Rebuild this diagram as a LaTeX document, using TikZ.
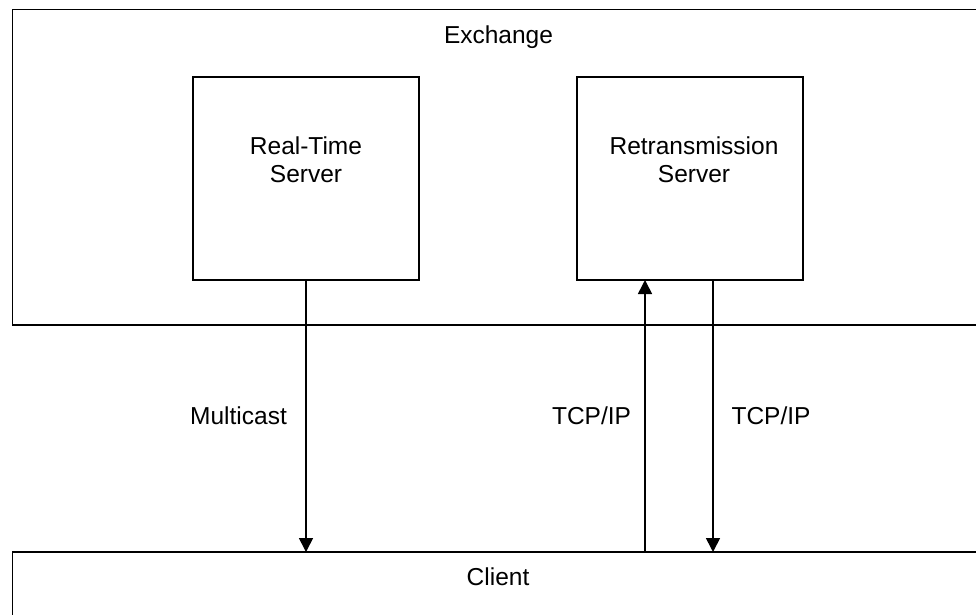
\documentclass[tikz,border=0pt]{standalone}
\usepackage{fontspec}
\setmainfont{Liberation Sans}
\usetikzlibrary{arrows.meta}
\begin{document}
\begin{tikzpicture}[x=1pt,y=-1pt,
  box/.style={draw,line width=1.6pt,rectangle,anchor=north west,inner sep=0pt,outer sep=0pt},
  lbl/.style={anchor=base,inner sep=0pt,font=\fontsize{24.5}{28}\selectfont},
  arr/.style={line width=1.6pt,-{Triangle[width=14pt,length=14pt]}}]
\useasboundingbox (0,0) rectangle (976,614);
\clip (0,0) rectangle (976,614);
\fill[white] (0,0) rectangle (976,614);
\node[box,minimum width=980pt,minimum height=315.5pt] (ex) at (12.5,9.5) {};
\node[box,minimum width=226pt,minimum height=203pt] (rt) at (193,77) {};
\node[box,minimum width=226pt,minimum height=203pt] (rs) at (577,77) {};
\node[box,minimum width=980pt,minimum height=100pt] (client) at (12.5,552) {};
\node[lbl] (exl) at (498.5,43) {Exchange};
\node[lbl] (rtl1) at (306,154) {Real-Time};
\node[lbl] (rtl2) at (306,182) {Server};
\node[lbl] (rsl1) at (694,154) {Retransmission};
\node[lbl] (rsl2) at (694,182) {Server};
\node[lbl] (cl) at (498,585) {Client};
\draw[arr] (rt.south) -- (rt.south |- client.north);
\draw[arr] ([xshift=-45pt]rs.south |- client.north) -- ([xshift=-45pt]rs.south);
\draw[arr] ([xshift=23pt]rs.south) -- ([xshift=23pt]rs.south |- client.north);
\node[lbl] (m) at (238.5,424) {Multicast};
\node[lbl] (t1) at (591.5,424) {TCP/IP};
\node[lbl] (t2) at (771,424) {TCP/IP};
\end{tikzpicture}
\end{document}
